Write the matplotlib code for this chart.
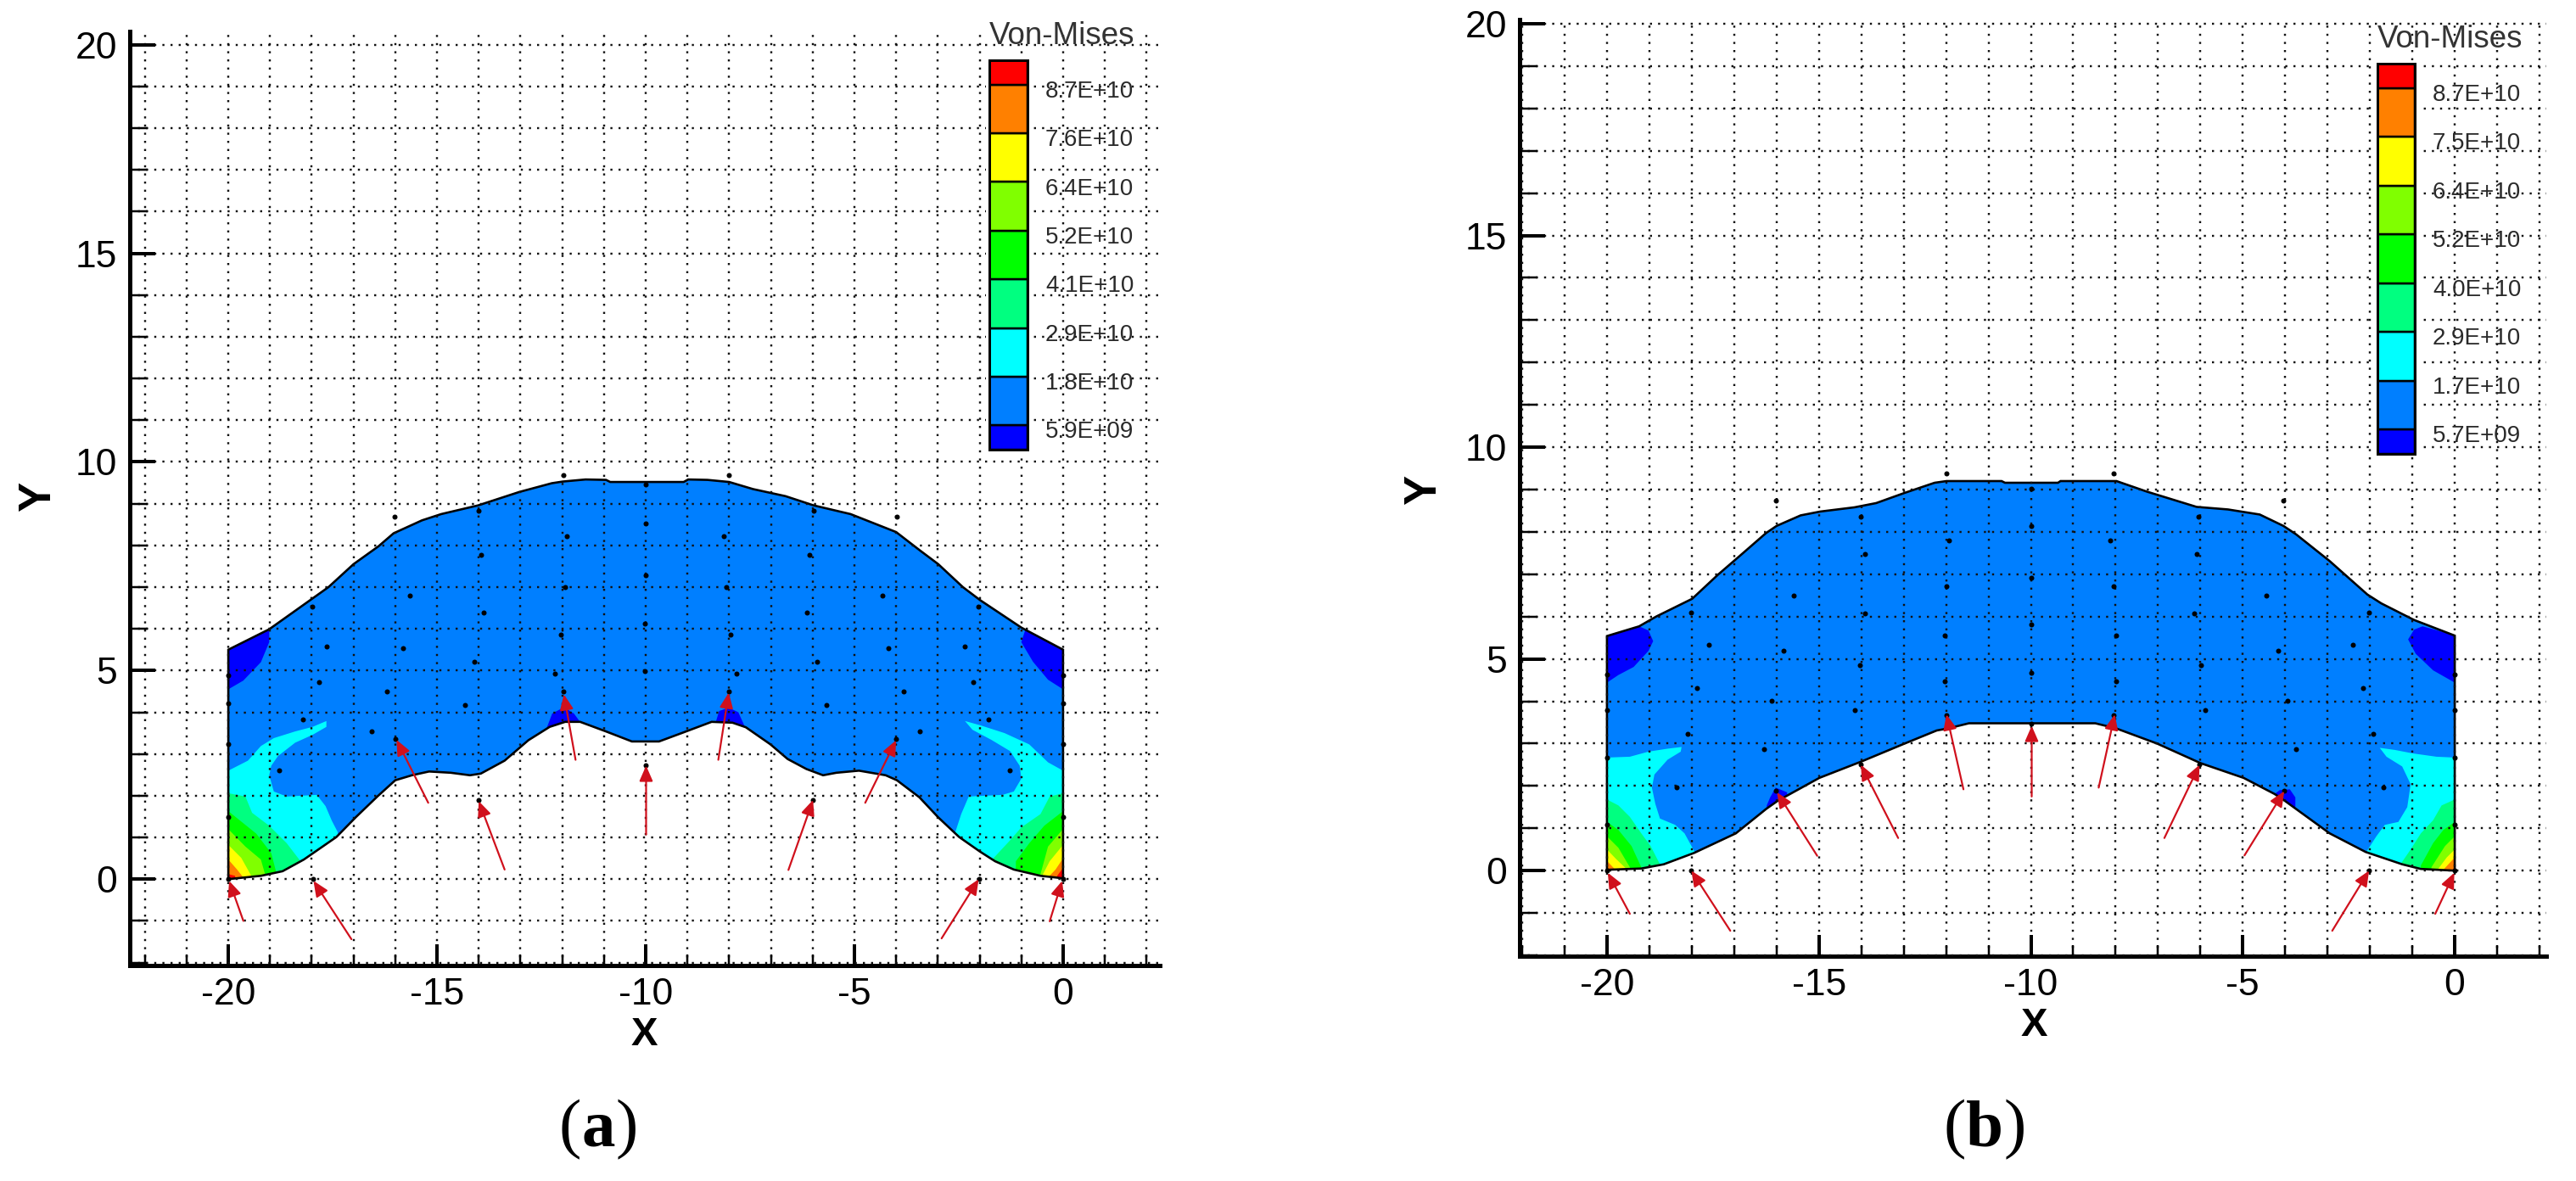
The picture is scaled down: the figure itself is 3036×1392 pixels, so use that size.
import matplotlib
matplotlib.use('Agg')
import matplotlib.pyplot as plt
from matplotlib.patches import Polygon, Rectangle
from matplotlib.ticker import MultipleLocator

plt.rcParams['font.family'] = 'Liberation Sans'
plt.rcParams['axes.unicode_minus'] = False
plt.rcParams['lines.scale_dashes'] = False

W, H = 3036, 1392

# colour levels, bottom to top of the legend
level_colors = ['#0000ff', '#007fff', '#00ffff', '#00ff80', '#00ff00',
                '#80ff00', '#ffff00', '#ff8000', '#ff0000']
level_heights = [0.5, 1, 1, 1, 1, 1, 1, 1, 0.5]
labels_a = ['5.9E+09', '1.8E+10', '2.9E+10', '4.1E+10', '5.2E+10', '6.4E+10', '7.6E+10', '8.7E+10']
labels_b = ['5.7E+09', '1.7E+10', '2.9E+10', '4.0E+10', '5.2E+10', '6.4E+10', '7.5E+10', '8.7E+10']

# --- panel (a) ---
outline_a = [(-20, 5.5), (-19.02, 5.99), (-17.6, 7.0), (-17.0, 7.55), (-16.4, 7.98), (-16.04, 8.29),
             (-15.36, 8.6), (-14.9, 8.75), (-14.01, 8.96), (-13.03, 9.28), (-12.25, 9.49), (-11.99, 9.53),
             (-11.44, 9.58), (-10.95, 9.57), (-10.85, 9.52), (-9.09, 9.52), (-8.98, 9.58), (-8.52, 9.57),
             (-8, 9.52), (-7.43, 9.35), (-6.65, 9.18), (-5.98, 8.96), (-5.09, 8.75), (-4, 8.32), (-3.43, 7.88),
             (-2.99, 7.55), (-2.4, 7.0), (-1.99, 6.69), (-1, 6.03), (0, 5.5),
             (0, 0.02), (-0.54, 0.08), (-1.18, 0.23), (-1.63, 0.43), (-1.99, 0.66), (-2.49, 1.01), (-2.99, 1.48),
             (-3.44, 1.96), (-3.98, 2.37), (-4.25, 2.49), (-4.89, 2.6), (-5.43, 2.55), (-5.75, 2.49), (-6.15, 2.64),
             (-6.6, 2.88), (-7.01, 3.23), (-7.6, 3.64), (-7.92, 3.75), (-8.42, 3.77), (-9.14, 3.5), (-9.68, 3.3),
             (-10.33, 3.3), (-10.95, 3.54), (-11.57, 3.77), (-11.93, 3.77), (-12.3, 3.65), (-12.81, 3.33),
             (-13.38, 2.84), (-13.95, 2.53), (-14.21, 2.49), (-14.67, 2.55), (-15.19, 2.58), (-15.6, 2.49),
             (-16, 2.37), (-16.43, 1.98), (-16.95, 1.48), (-17.41, 1.01), (-18.19, 0.47), (-18.7, 0.19),
             (-19.22, 0.08), (-20, 0)]

dark_a = [[(-20, 5.5), (-19.02, 5.99), (-19.02, 5.68), (-19.22, 5.2), (-19.64, 4.76), (-20, 4.55)],
          [(-0.9, 5.99), (-1, 5.68), (-0.72, 5.21), (-0.36, 4.78), (0, 4.55), (0, 5.5)],
          [(-12.38, 3.6), (-12.24, 3.97), (-11.96, 4.12), (-11.72, 3.97), (-11.52, 3.7)],
          [(-8.34, 3.7), (-8.24, 4.03), (-8.01, 4.11), (-7.78, 4.0), (-7.6, 3.6)]]

# bands from cyan up to red, left and right bottom corners
left_a = [
    [(-20, 2.6), (-19.53, 2.84), (-19.22, 3.19), (-18.91, 3.38), (-18.4, 3.54), (-17.98, 3.65), (-17.65, 3.79),
     (-17.65, 3.65), (-17.98, 3.46), (-18.4, 3.27), (-18.81, 2.95), (-18.97, 2.72), (-19.02, 2.49), (-18.91, 2.1),
     (-18.6, 1.98), (-17.88, 2.02), (-17.67, 1.75), (-17.52, 1.4), (-17.38, 1.13), (-17.3, -0.2), (-20, -0.2)],
    [(-20, 2.06), (-19.59, 1.98), (-19.43, 1.59), (-19.02, 1.28), (-18.6, 0.86), (-18.27, 0.43), (-18.2, -0.2), (-20, -0.2)],
    [(-20, 1.63), (-19.33, 1.09), (-18.97, 0.62), (-18.86, 0.19), (-18.86, -0.2), (-20, -0.2)],
    [(-20, 1.2), (-19.59, 0.78), (-19.22, 0.47), (-19.12, 0.12), (-19.12, -0.2), (-20, -0.2)],
    [(-20, 0.82), (-19.69, 0.51), (-19.45, 0.08), (-19.45, -0.2), (-20, -0.2)],
    [(-20, 0.47), (-19.79, 0.23), (-19.64, 0.04), (-19.64, -0.2), (-20, -0.2)],
    [(-20, 0.12), (-19.84, 0.08), (-19.8, -0.2), (-20, -0.2)],
]
right_a = [
    [(0, 2.6), (-0.36, 2.8), (-0.81, 3.23), (-1.4, 3.5), (-1.99, 3.69), (-2.35, 3.79), (-2.17, 3.58), (-1.72, 3.34),
     (-1.27, 3.07), (-1.04, 2.72), (-1, 2.41), (-1.18, 2.1), (-1.45, 2.02), (-2.26, 1.98), (-2.44, 1.56), (-2.58, 1.13),
     (-2.6, -0.2), (0, -0.2)],
    [(0, 2.06), (-0.32, 1.98), (-0.54, 1.56), (-1, 1.24), (-1.27, 0.93), (-1.67, 0.5), (-1.7, -0.2), (0, -0.2)],
    [(0, 1.63), (-0.45, 1.28), (-0.81, 0.86), (-1.13, 0.43), (-1.13, -0.2), (0, -0.2)],
    [(0, 1.2), (-0.36, 0.78), (-0.54, 0.12), (-0.6, -0.2), (0, -0.2)],
    [(0, 0.82), (-0.32, 0.43), (-0.5, 0.08), (-0.5, -0.2), (0, -0.2)],
    [(0, 0.5), (-0.18, 0.23), (-0.36, 0.04), (-0.36, -0.2), (0, -0.2)],
    [(0, 0.27), (-0.14, 0.08), (-0.2, -0.2), (0, -0.2)],
]

arrow_tail_a = [(-19.64, -1.0), (-17.05, -1.44), (-15.21, 1.83), (-13.38, 0.23), (-11.68, 2.86), (-9.99, 1.07),
                (-8.26, 2.86), (-6.58, 0.22), (-4.74, 1.83), (-2.91, -1.42), (-0.32, -1.01)]
arrow_tip_a = [(-19.98, -0.04), (-17.96, -0.04), (-15.97, 3.34), (-14, 1.87), (-11.96, 4.43), (-9.99, 2.72),
               (-8.01, 4.47), (-5.99, 1.9), (-4, 3.33), (-2.02, 0), (-0.02, -0.04)]

nodes_a = [(-11.97, 9.68), (-8, 9.68), (-16.02, 8.68), (-14.01, 8.84), (-5.98, 8.84), (-3.98, 8.68), (-10, 9.47),
           (-10, 8.53), (-11.9, 8.21), (-8.12, 8.21), (-13.94, 7.77), (-6.08, 7.77), (-10, 7.29), (-11.94, 7),
           (-8.07, 7), (-17.98, 6.53), (-15.66, 6.8), (-13.88, 6.38), (-12.04, 5.87), (-10.02, 6.12), (-17.65, 5.58),
           (-15.81, 5.54), (-14.1, 5.21), (-10.02, 4.98), (-12.17, 4.92), (-17.83, 4.73), (-16.2, 4.49), (-11.98, 4.49),
           (-14.34, 4.17), (-18.21, 3.83), (-16.56, 3.55), (-16, 3.36), (-18.78, 2.6), (-10, 2.72), (-14, 1.9),
           (-17.96, 0), (-20, 4.88), (-20, 4.21), (-20, 3.23), (-20, 1.48), (-2.03, 6.53), (-4.33, 6.8), (-6.13, 6.38),
           (-7.96, 5.86), (-2.35, 5.58), (-4.19, 5.54), (-5.9, 5.21), (-7.83, 4.92), (-2.16, 4.73), (-3.82, 4.49),
           (-8.01, 4.49), (-5.66, 4.17), (-1.79, 3.83), (-3.44, 3.55), (-4, 3.36), (-1.27, 2.6), (-5.99, 1.9), (-2.02, 0),
           (0, 4.88), (0, 4.21), (0, 3.23), (0, 1.48), (-20, 0), (0, 0)]

# --- panel (b) ---
outline_b = [(-20, 5.54), (-19.24, 5.77), (-18.84, 6), (-17.99, 6.42), (-17.38, 6.99), (-16.87, 7.43), (-16.25, 7.97),
             (-16, 8.14), (-15.43, 8.39), (-14.97, 8.48), (-14.16, 8.58), (-13.65, 8.68), (-12.98, 8.92), (-12.27, 9.16),
             (-11.99, 9.2), (-10.69, 9.2), (-10.61, 9.16), (-9.36, 9.16), (-9.3, 9.2), (-7.98, 9.2), (-7.26, 8.95),
             (-6.09, 8.59), (-5.35, 8.53), (-4.6, 8.41), (-4.04, 8.14), (-3.74, 7.94), (-2.95, 7.31), (-2.06, 6.52),
             (-1.73, 6.31), (-0.96, 5.92), (0, 5.55),
             (0, 0), (-0.8, 0.04), (-1.24, 0.15), (-2.1, 0.44), (-2.95, 0.88), (-4.01, 1.65), (-4.25, 1.81), (-4.98, 2.19),
             (-6, 2.54), (-7.02, 3), (-7.99, 3.36), (-8.48, 3.48), (-11.46, 3.48), (-11.95, 3.36), (-12.22, 3.31),
             (-12.98, 3), (-13.99, 2.58), (-14.99, 2.19), (-15.97, 1.65), (-16.24, 1.46), (-16.96, 0.88), (-17.94, 0.42),
             (-18.66, 0.15), (-19.19, 0.05), (-20, 0.02)]

dark_b = [[(-20, 5.54), (-19.24, 5.77), (-19.02, 5.67), (-18.91, 5.42), (-19.02, 5.19), (-19.37, 4.81), (-19.73, 4.62), (-20, 4.44)],
          [(-0.96, 5.69), (-1.1, 5.46), (-0.92, 5.12), (-0.51, 4.73), (0, 4.44), (0, 5.56), (-0.76, 5.77)],
          [(-16.23, 1.42), (-16.23, 1.54), (-16.15, 1.73), (-16.02, 1.96), (-15.75, 1.85), (-15.75, 1.7)],
          [(-4.25, 1.7), (-4.25, 1.81), (-4.13, 1.9), (-3.89, 1.92), (-3.76, 1.73), (-3.76, 1.4)]]

left_b = [
    [(-20, 2.67), (-19.46, 2.69), (-19.02, 2.81), (-18.57, 2.88), (-18.24, 2.92), (-18.26, 2.81), (-18.57, 2.62),
     (-18.88, 2.27), (-18.94, 1.96), (-18.86, 1.58), (-18.75, 1.23), (-18.39, 1.08), (-18.17, 0.88), (-17.94, 0.46),
     (-17.9, -0.2), (-20, -0.2)],
    [(-20, 1.68), (-19.73, 1.54), (-19.46, 1.27), (-19.19, 0.88), (-18.97, 0.58), (-18.75, 0.15), (-18.7, -0.2), (-20, -0.2)],
    [(-20, 1.15), (-19.73, 0.96), (-19.42, 0.58), (-19.19, 0.08), (-19.19, -0.2), (-20, -0.2)],
    [(-20, 0.81), (-19.73, 0.54), (-19.46, 0.08), (-19.46, -0.2), (-20, -0.2)],
    [(-20, 0.5), (-19.78, 0.27), (-19.55, 0.05), (-19.55, -0.2), (-20, -0.2)],
    [(-20, 0.23), (-19.82, 0.04), (-19.82, -0.2), (-20, -0.2)],
    [(-20, 0.08), (-19.93, 0.02), (-19.93, -0.2), (-20, -0.2)],
]
right_b = [
    [(0, 2.67), (-0.43, 2.69), (-1, 2.77), (-1.41, 2.85), (-1.77, 2.9), (-1.61, 2.69), (-1.24, 2.46), (-1.04, 2.04),
     (-1.12, 1.5), (-1.33, 1.15), (-1.65, 1.08), (-1.85, 0.81), (-2.1, 0.42), (-2.1, -0.2), (0, -0.2)],
    [(0, 1.68), (-0.31, 1.54), (-0.51, 1.19), (-0.8, 0.88), (-1.04, 0.5), (-1.28, 0.15), (-1.28, -0.2), (0, -0.2)],
    [(0, 1.15), (-0.27, 0.96), (-0.51, 0.65), (-0.8, 0.12), (-0.8, -0.2), (0, -0.2)],
    [(0, 0.81), (-0.23, 0.58), (-0.55, 0.08), (-0.55, -0.2), (0, -0.2)],
    [(0, 0.5), (-0.19, 0.31), (-0.39, 0.04), (-0.39, -0.2), (0, -0.2)],
    [(0, 0.31), (-0.15, 0.15), (-0.27, 0.02), (-0.27, -0.2), (0, -0.2)],
    [(0, 0.08), (-0.07, 0), (-0.07, -0.2), (0, -0.2)],
]

arrow_tail_b = [(-19.46, -1.02), (-17.09, -1.42), (-15.04, 0.35), (-13.13, 0.77), (-11.59, 1.92), (-9.98, 1.75),
                (-8.4, 1.96), (-6.85, 0.77), (-4.96, 0.36), (-2.89, -1.42), (-0.46, -1.02)]
arrow_tip_b = [(-19.98, -0.05), (-18.01, 0), (-15.99, 1.85), (-14.01, 2.5), (-11.99, 3.69), (-9.98, 3.42),
               (-8.02, 3.69), (-6.02, 2.5), (-4.02, 1.88), (-2.02, 0), (-0.01, -0.05)]

nodes_b = [(-12, 9.39), (-8.05, 9.39), (-16.02, 8.74), (-4.04, 8.74), (-14.01, 8.36), (-6.05, 8.36), (-10, 9.02),
           (-10, 8.14), (-11.93, 7.8), (-8.13, 7.8), (-13.92, 7.47), (-6.08, 7.48), (-10, 6.91), (-12, 6.72), (-8.05, 6.72),
           (-15.59, 6.5), (-18.01, 6.09), (-13.92, 6.08), (-10, 5.81), (-12.04, 5.56), (-7.99, 5.56), (-17.6, 5.33),
           (-15.83, 5.19), (-14.03, 4.86), (-10, 4.68), (-12.04, 4.48), (-7.99, 4.48), (-17.87, 4.31), (-16.11, 4.02),
           (-14.16, 3.79), (-12, 3.67), (-8.04, 3.67), (-18.1, 3.23), (-16.29, 2.86), (-18.35, 1.96), (-14.01, 2.5),
           (-16.02, 1.88), (-18.01, 0), (-10, 3.46), (-20, 4.63), (-20, 3.79), (-20, 2.67), (-20, 1.08),
           (-4.44, 6.5), (-2.02, 6.09), (-6.14, 6.08), (-2.4, 5.33), (-4.17, 5.19), (-5.98, 4.86), (-2.16, 4.31),
           (-3.94, 4.02), (-5.89, 3.79), (-1.93, 3.23), (-3.75, 2.86), (-1.69, 1.96), (-6.02, 2.5), (-4.02, 1.88),
           (-2.02, 0), (0, 4.63), (0, 3.79), (0, 2.67), (0, 1.08), (-20, 0), (0, 0)]


def px(v):
    # pixels to points at dpi 100
    return v * 0.72


def draw_panel(fig, rect, xlim, ylim, outline, dark, left, right, tails, tips, nodes, labels, bar_rect,
               xlabel_px, ylabel_px):
    l, t, r, b = rect
    ax = fig.add_axes([l / W, 1 - b / H, (r - l) / W, (b - t) / H])
    ax.set_xlim(*xlim)
    ax.set_ylim(*ylim)
    for side in ['top', 'right']:
        ax.spines[side].set_visible(False)
    for side in ['left', 'bottom']:
        ax.spines[side].set_linewidth(px(5))

    ax.xaxis.set_major_locator(MultipleLocator(5))
    ax.xaxis.set_minor_locator(MultipleLocator(1))
    ax.yaxis.set_major_locator(MultipleLocator(5))
    ax.yaxis.set_minor_locator(MultipleLocator(1))
    ax.tick_params(axis='x', which='major', direction='in', length=px(25), width=px(4), labelsize=32, pad=px(14))
    ax.tick_params(axis='x', which='minor', direction='in', length=px(13), width=px(2.5))
    ax.tick_params(axis='y', which='major', direction='in', length=px(30), width=px(4), labelsize=32, pad=px(15))
    ax.tick_params(axis='y', which='minor', direction='in', length=px(21), width=px(2.5))
    ax.grid(True, which='both', color='#111111', linewidth=px(2.4), linestyle=(0, (px(2.4), px(7.2))))
    ax.set_axisbelow(False)

    # stress field
    shape = Polygon(outline, closed=True, facecolor=level_colors[1], edgecolor='none', zorder=1)
    ax.add_patch(shape)
    for poly in dark:
        p = Polygon(poly, closed=True, facecolor=level_colors[0], edgecolor='none', zorder=1.5)
        ax.add_patch(p)
        p.set_clip_path(shape)
    for side_bands in [left, right]:
        for poly, col in zip(side_bands, level_colors[2:]):
            p = Polygon(poly, closed=True, facecolor=col, edgecolor='none', zorder=1.5)
            ax.add_patch(p)
            p.set_clip_path(shape)
    ax.add_patch(Polygon(outline, closed=True, fill=False, edgecolor='black', linewidth=px(2.6), zorder=2))

    ax.scatter([n[0] for n in nodes], [n[1] for n in nodes], s=px(6) ** 2, color='black', linewidths=0, zorder=4)

    for tail, tip in zip(tails, tips):
        ax.annotate('', xy=tip, xytext=tail, zorder=5,
                    arrowprops=dict(arrowstyle='-|>,head_length=1.1,head_width=0.48', mutation_scale=10,
                                    color='#d0101c', lw=px(2.2), shrinkA=0, shrinkB=0))

    ax.set_xlabel('X', fontsize=34, fontweight='bold', va='center')
    ax.xaxis.set_label_coords((xlabel_px[0] - l) / (r - l), (b - xlabel_px[1]) / (b - t))
    ax.set_ylabel('Y', fontsize=38, fontweight='bold', va='center')
    ax.yaxis.set_label_coords((ylabel_px[0] - l) / (r - l), (b - ylabel_px[1]) / (b - t))

    # legend bar
    bl, bt, br, bb = bar_rect
    fig.add_artist(Rectangle(((bl - 4) / W, 1 - (bb + 4) / H), (br - bl + 8) / W, (bb - bt + 8) / H,
                             transform=fig.transFigure, facecolor='white', edgecolor='none', zorder=1))
    lax = fig.add_axes([bl / W, 1 - bb / H, (br - bl) / W, (bb - bt) / H], zorder=2)
    lax.patch.set_alpha(0)
    bottom = 0
    edges = []
    for col, hgt in zip(level_colors, level_heights):
        lax.bar(0, hgt, bottom=bottom, width=1, color=col, edgecolor='black', linewidth=px(2.5))
        bottom += hgt
        edges.append(bottom)
    lax.set_xlim(-0.5, 0.5)
    lax.set_ylim(0, bottom)
    lax.set_xticks([])
    lax.yaxis.tick_right()
    # labels sit a few pixels under the band edge
    lax.set_yticks([e - 0.09 for e in edges[:-1]])
    lax.set_yticklabels(labels, fontsize=20, color='#2a2a2a')
    lax.tick_params(axis='y', length=0, pad=px(21))
    for s in lax.spines.values():
        s.set_linewidth(px(3))
    lax.text(0, 1 + 29 / (bb - bt), 'Von-Mises', transform=lax.transAxes, fontsize=26.5, color='#333333',
             ha='left', va='center')
    return ax


fig = plt.figure(figsize=(W / 100, H / 100), dpi=100, facecolor='white')

draw_panel(fig, (153, 37, 1367, 1138), (-22.36, 2.32), (-2.07, 20.32), outline_a, dark_a, left_a, right_a,
           arrow_tail_a, arrow_tip_a, nodes_a, labels_a, (1166, 71, 1211, 530), (759, 1220), (45, 585))
draw_panel(fig, (1791, 23, 3001, 1127), (-22.06, 2.16), (-2.02, 20.1), outline_b, dark_b, left_b, right_b,
           arrow_tail_b, arrow_tip_b, nodes_b, labels_b, (2802, 75, 2846, 535), (2397, 1209), (1678, 577))

# sub-figure captions
for cx, letter in [(705, 'a'), (2339, 'b')]:
    half = 20 if letter == 'a' else 22
    fig.text((cx - half) / W, 1 - 1332 / H, '(', family='Liberation Serif', fontsize=57, ha='right', va='center')
    fig.text(cx / W, 1 - 1332 / H, letter, family='Liberation Serif', fontsize=57, fontweight='bold', ha='center', va='center')
    fig.text((cx + half) / W, 1 - 1332 / H, ')', family='Liberation Serif', fontsize=57, ha='left', va='center')

fig.savefig('out.png', dpi=100)
